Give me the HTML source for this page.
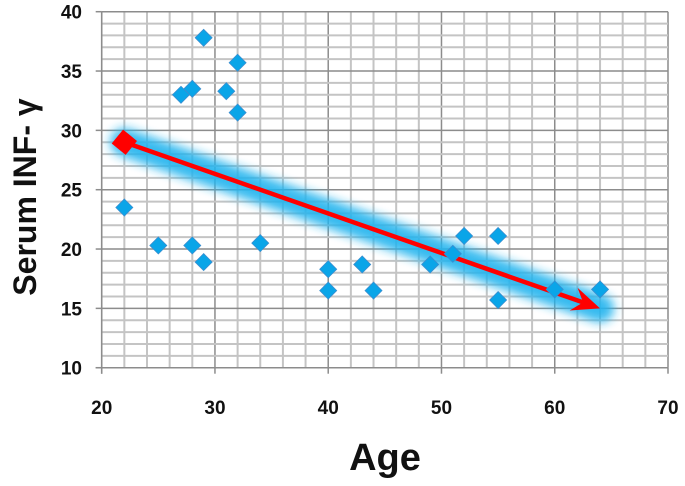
<!DOCTYPE html>
<html><head><meta charset="utf-8"><style>
html,body{margin:0;padding:0;background:#fff;}
svg{display:block;font-family:"Liberation Sans",sans-serif;font-weight:bold;}
</style></head><body>
<svg id="chart" width="685" height="486" viewBox="0 0 685 486">
<defs>
<filter id="glow" x="-20%" y="-60%" width="140%" height="220%"><feGaussianBlur stdDeviation="5"/></filter>
</defs>
<g id="grid"></g>
<g id="trend"></g>
<g id="points"></g>
<g id="axes"></g>
<text transform="translate(36,197) rotate(-90)" text-anchor="middle" font-size="32" fill="#111">Serum INF- γ</text>
<text x="385" y="470" text-anchor="middle" font-size="38" fill="#111">Age</text>
</svg>
<script>
const ages = [22,25,27,28,28,29,29,31,32,32,34,40,40,43,44,49,51,52,55,55,60,64];
const infg = [23.5,20.3,33,33.5,20.3,37.8,18.9,33.3,35.7,31.5,20.5,18.3,16.5,18.7,16.5,18.7,19.6,21.1,21.1,15.7,16.6,16.6];
const trendX = [22,64];
const trendY = [29,15];
const xTicks = [20,30,40,50,60,70];
const yTicks = [10,15,20,25,30,35,40];
const X0=101.7,X1=668,Y0=367.7,Y1=11.7;
const sx=v=>X0+(v-20)/50*(X1-X0);
const sy=v=>Y0-(v-10)/30*(Y0-Y1);
const NS="http://www.w3.org/2000/svg";
function mk(t,p,a){const e=document.createElementNS(NS,t);for(const k in a)e.setAttribute(k,a[k]);p.appendChild(e);return e;}
const grid=document.getElementById('grid'),axes=document.getElementById('axes');
for(let v=20;v<=70;v+=2){const major=(v%10===0);
 const l=mk('line',grid,{x1:sx(v),x2:sx(v),y1:Y1,y2:Y0,stroke:major?'#8c8c8c':'#c4c4c4','stroke-width':major?1.5:2});
 
 }
for(let v=10;v<=40;v+=1){const major=(v%5===0);
 const l=mk('line',grid,{x1:X0,x2:X1,y1:sy(v),y2:sy(v),stroke:major?'#8c8c8c':'#c4c4c4','stroke-width':major?1.5:2});
 
 }
mk('line',axes,{x1:X0,x2:X0,y1:Y1,y2:Y0+6,stroke:'#8c8c8c','stroke-width':1.5});
mk('line',axes,{x1:X0-6,x2:X1,y1:Y0,y2:Y0,stroke:'#8c8c8c','stroke-width':1.5});
xTicks.forEach(v=>{mk('line',axes,{x1:sx(v),x2:sx(v),y1:Y0,y2:Y0+6,stroke:'#8c8c8c','stroke-width':1.5});
 const t=mk('text',axes,{x:sx(v),y:414,'text-anchor':'middle','font-size':19,fill:'#111'});t.textContent=v;
 
 });
yTicks.forEach(v=>{mk('line',axes,{x1:X0-6,x2:X0,y1:sy(v),y2:sy(v),stroke:'#8c8c8c','stroke-width':1.5});
 const t=mk('text',axes,{x:82,y:sy(v)+7,'text-anchor':'end','font-size':19,fill:'#111'});t.textContent=v;
 
 });
const tr=document.getElementById('trend');
const gl=mk('line',tr,{x1:sx(trendX[0]),y1:sy(trendY[0]),x2:sx(trendX[1]),y2:sy(trendY[1]),stroke:'#22b4ee','stroke-width':28,'stroke-linecap':'round',filter:'url(#glow)',opacity:0.9});


const pts=document.getElementById('points');
ages.forEach((a,i)=>{const cx=sx(a),cy=sy(infg[i]);
 const p=mk('path',pts,{d:`M${cx},${cy-8.5} L${cx+8.5},${cy} L${cx},${cy+8.5} L${cx-8.5},${cy} Z`,fill:'#0aa5e8',stroke:'#3a8ed0','stroke-width':0.8});
 
 });
const ax=sx(trendX[0]),ay=sy(trendY[0]),bx=sx(trendX[1]),by=sy(trendY[1]);
const ang=Math.atan2(by-ay,bx-ax),ex=bx-18*Math.cos(ang),ey=by-18*Math.sin(ang);
const rl=mk('line',tr,{x1:ax,y1:ay,x2:ex,y2:ey,stroke:'#ff0000','stroke-width':4.5});


const hd=mk('path',tr,{d:`M${bx},${by} L${bx-28*Math.cos(ang)+12*Math.sin(ang)},${by-28*Math.sin(ang)-12*Math.cos(ang)} L${ex},${ey} L${bx-28*Math.cos(ang)-12*Math.sin(ang)},${by-28*Math.sin(ang)+12*Math.cos(ang)} Z`,fill:'#ff0000'});


const sq=mk('rect',tr,{x:ax-9,y:ay-9,width:18,height:18,fill:'#ff0000',transform:`rotate(${ang*180/Math.PI+20} ${ax} ${ay})`});


</script>
</body></html>
